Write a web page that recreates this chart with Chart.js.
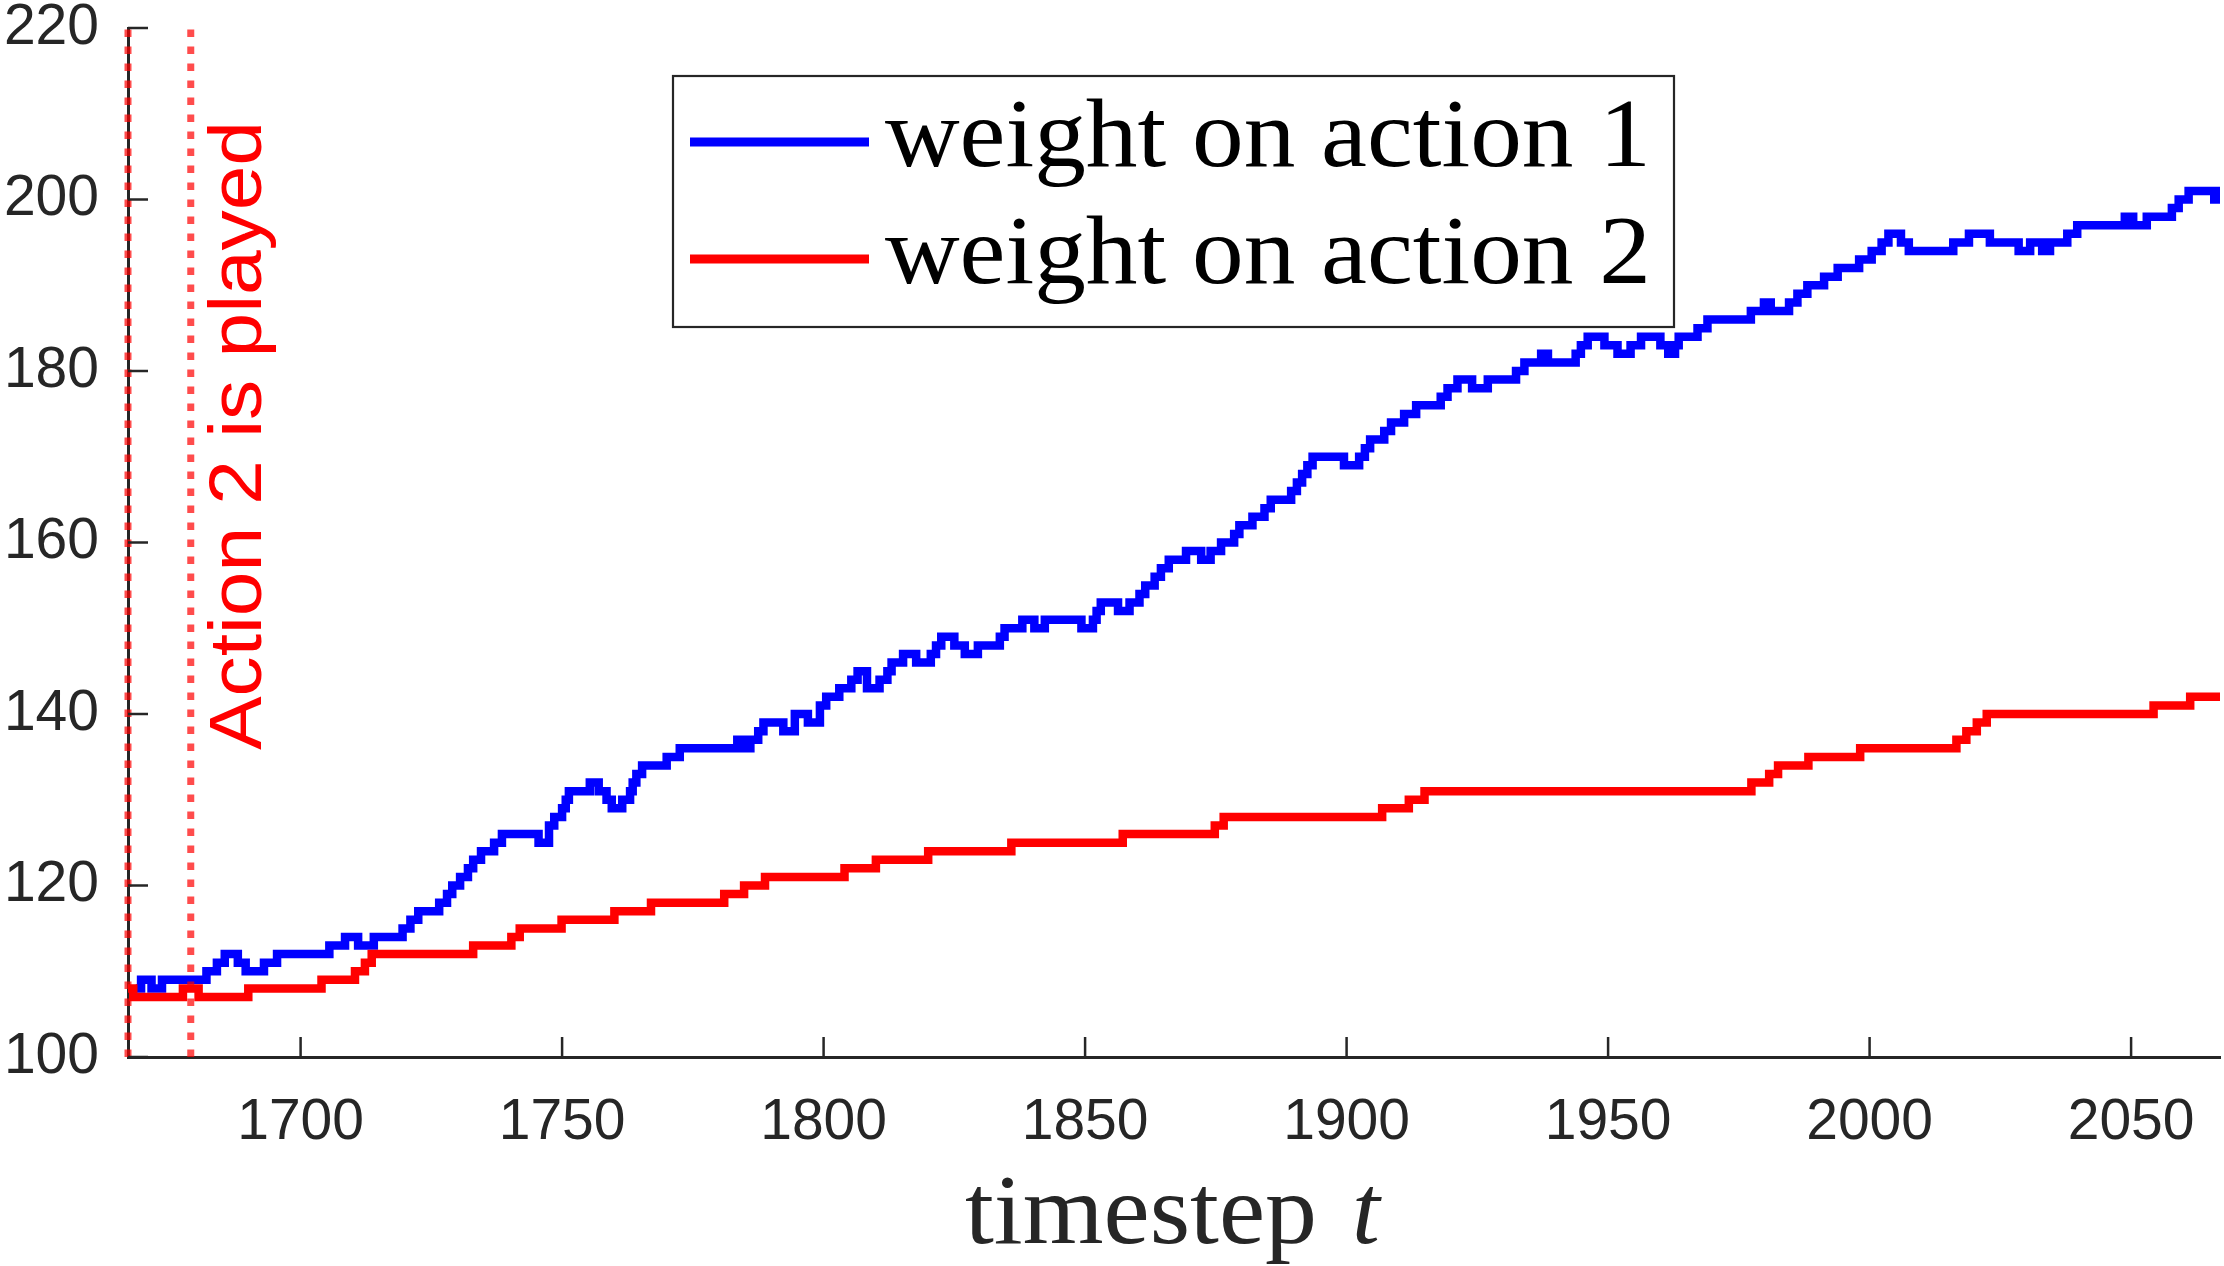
<!DOCTYPE html>
<html>
<head>
<meta charset="utf-8">
<script src="https://cdn.jsdelivr.net/npm/chart.js@4/dist/chart.umd.min.js"></script>
<style>
html,body{margin:0;padding:0;background:#ffffff;}
#wrap{width:2224px;height:1266px;position:relative;}
canvas{display:block;}
</style>
</head>
<body>
<div id="wrap"><canvas id="c" width="2224" height="1266"></canvas></div>
<script>
// ---------------- data ----------------
const xTickValues = [1700, 1750, 1800, 1850, 1900, 1950, 2000, 2050];
const yTickValues = [100, 120, 140, 160, 180, 200, 220];
const xRange = [1667, 2067];
const yRange = [100, 220];

const seriesLabels = ['weight on action 1', 'weight on action 2'];
const annotationText = 'Action 2 is played';
const axisTitleMain = 'timestep';
const axisTitleVar = 't';

// timesteps at which action 2 is played (dotted markers)
const actionPlayedT = [1667, 1679];

// weight on action 2 (change points: value holds from t onward)
const redT = [1667, 1668, 1677.5, 1680.5, 1690, 1704, 1710.4, 1712.3, 1713.6, 1733, 1740.3, 1741.9,
  1749.9, 1760, 1767, 1781, 1784.8, 1788.8, 1804, 1810, 1820, 1835.9, 1857.2, 1874.8, 1876.5,
  1906.8, 1911.9, 1914.9, 1977.4, 1980.8, 1982.5, 1988.3, 1998.2, 2016.6, 2018.5, 2020.5, 2022.4,
  2054.3, 2061.3, 2067];
const redW = [108, 107, 108, 107, 108, 109, 110, 111, 112, 113, 114, 115,
  116, 117, 118, 119, 120, 121, 122, 123, 124, 125, 126, 127, 128,
  129, 130, 131, 132, 133, 134, 135, 136, 137, 138, 139, 140,
  141, 142, 142];

// weight on action 1 (change points)
const blueT = [1668.5, 1669.5, 1671.5, 1673.5, 1682, 1684, 1685.5, 1688, 1689.5, 1693, 1695.5,
  1705.5, 1708.5, 1711, 1714, 1719.5, 1721, 1722.5, 1726.5, 1728, 1729, 1730.5, 1732, 1733,
  1734.5, 1737, 1738.5, 1745.5, 1747.5, 1748.5, 1750, 1750.7, 1751.3, 1755.3, 1757, 1758.5,
  1759.5, 1761.5, 1763, 1763.5, 1764.2, 1765.3, 1770, 1772.5, 1783.5, 1784.5, 1786, 1787.5,
  1788.5, 1792.3, 1794.5, 1797, 1799.3, 1800.5, 1803, 1805.3, 1806.5, 1808.3, 1810.7, 1812.2,
  1813, 1815.2, 1817.7, 1820.5, 1821.5, 1822.5, 1825, 1827, 1829.5, 1833.7, 1834.6, 1838,
  1840.3, 1842.3, 1849.3, 1851.5, 1852.2, 1853, 1856.3, 1858.5, 1860.4, 1861.5, 1863.3, 1864.5,
  1866, 1869.3, 1872.2, 1874, 1876, 1878.5, 1879.5, 1882, 1884.3, 1885.5, 1889.4, 1890.5,
  1891.5, 1892.5, 1893.5, 1899.5, 1902.4, 1903.5, 1904.5, 1907.2, 1908.5, 1911, 1913.3, 1918,
  1919.3, 1921.2, 1924, 1927, 1932.4, 1934, 1937.2, 1938.5, 1943.8, 1944.8, 1946.1, 1949.3,
  1951.8, 1954.3, 1956.3, 1960, 1961.5, 1962.8, 1963.5, 1967.1, 1969, 1977.3, 1979.8, 1981.1,
  1984.6, 1986.2, 1988.1, 1991.3, 1993.9, 1998, 2000.4, 2002.3, 2003.6, 2006, 2007.5, 2016,
  2019, 2023, 2028.5, 2030.7, 2033, 2034.5, 2037.8, 2039.7, 2048.8, 2050.4, 2053, 2057.8,
  2059.1, 2061, 2065.9, 2066.5, 2067];
const blueW = [108, 109, 108, 109, 110, 111, 112, 111, 110, 111, 112,
  113, 114, 113, 114, 115, 116, 117, 118, 119, 120, 121, 122, 123,
  124, 125, 126, 125, 127, 128, 129, 130, 131, 132, 131, 130,
  129, 130, 131, 132, 133, 134, 135, 136, 137, 136, 137, 138,
  139, 138, 140, 139, 141, 142, 143, 144, 145, 143, 144, 145,
  146, 147, 146, 147, 148, 149, 148, 147, 148, 149, 150, 151,
  150, 151, 150, 151, 152, 153, 152, 153, 154, 155, 156, 157,
  158, 159, 158, 159, 160, 161, 162, 163, 164, 165, 166, 167,
  168, 169, 170, 169, 170, 171, 172, 173, 174, 175, 176, 177,
  178, 179, 178, 179, 180, 181, 182, 181, 182, 183, 184, 183,
  182, 183, 184, 183, 182, 183, 184, 185, 186, 187, 188, 187,
  188, 189, 190, 191, 192, 193, 194, 195, 196, 195, 194, 195,
  196, 195, 194, 195, 194, 195, 196, 197, 198, 197, 198, 199,
  200, 201, 200, 201, 201];

// ---------------- styling ----------------
const AXIS_COLOR = '#262626';
const BLUE = '#0000ff';
const RED = '#ff0000';
const DOT_RED = 'rgba(255,0,0,0.7)';
const SANS = '"Liberation Sans", Arial, Helvetica, sans-serif';
const SERIF = '"Liberation Serif", "Times New Roman", serif';

const toPts = (ts, ws) => ts.map((t, i) => ({x: t, y: ws[i]}));

const vlineSets = actionPlayedT.map(t => ({
  label: '_marker',
  data: [{x: t, y: yRange[0]}, {x: t, y: yRange[1]}],
  borderColor: DOT_RED,
  borderWidth: 7,
  borderDash: [7.5, 9.5],
  borderCapStyle: 'butt',
  pointRadius: 0,
  fill: false,
  clip: false,
  tension: 0
}));

function fitText(ctx, text, x, y, targetW) {
  const w = ctx.measureText(text).width;
  ctx.save();
  ctx.translate(x, y);
  if (targetW && w > 0) ctx.scale(targetW / w, 1);
  ctx.fillText(text, 0, 0);
  ctx.restore();
}

const decorations = {
  id: 'decorations',
  afterDraw(chart) {
    const {ctx, chartArea: ca, scales} = chart;
    const xs = scales.x, ys = scales.y;

    // inward tick marks
    ctx.save();
    ctx.strokeStyle = AXIS_COLOR;
    ctx.lineWidth = 2.5;
    const tl = 20;
    xs.ticks.forEach(t => {
      const px = xs.getPixelForValue(t.value);
      ctx.beginPath(); ctx.moveTo(px, ca.bottom); ctx.lineTo(px, ca.bottom - tl); ctx.stroke();
    });
    ys.ticks.forEach(t => {
      const py = ys.getPixelForValue(t.value);
      ctx.beginPath(); ctx.moveTo(ca.left, py); ctx.lineTo(ca.left + tl, py); ctx.stroke();
    });
    ctx.restore();

    // rotated annotation
    ctx.save();
    ctx.fillStyle = RED;
    ctx.font = '75px ' + SANS;
    ctx.textAlign = 'left';
    ctx.textBaseline = 'alphabetic';
    ctx.translate(xs.getPixelForValue(1692.4), ys.getPixelForValue(135.8));
    ctx.rotate(-Math.PI / 2);
    fitText(ctx, annotationText, 0, 0, 629);
    ctx.restore();

    // legend box
    const cx = (ca.left + ca.right) / 2;
    const bw = 1001, bh = 251;
    const bx = cx - bw / 2 - 0.5, by = ca.top + 48;
    ctx.save();
    ctx.fillStyle = '#ffffff';
    ctx.fillRect(bx, by, bw, bh);
    ctx.strokeStyle = AXIS_COLOR;
    ctx.lineWidth = 2.2;
    ctx.strokeRect(bx, by, bw, bh);
    const sets = [chart.data.datasets.find(d => d.label === seriesLabels[0]),
                  chart.data.datasets.find(d => d.label === seriesLabels[1])];
    const rows = [by + 66, by + 183];
    sets.forEach((d, i) => {
      ctx.strokeStyle = d.borderColor;
      ctx.lineWidth = 9;
      ctx.lineCap = 'butt';
      ctx.beginPath();
      ctx.moveTo(bx + 17, rows[i]);
      ctx.lineTo(bx + 196, rows[i]);
      ctx.stroke();
      ctx.fillStyle = '#000000';
      ctx.font = '97px ' + SERIF;
      ctx.textAlign = 'left';
      ctx.textBaseline = 'alphabetic';
      fitText(ctx, d.label, bx + 212, rows[i] + 24, 766);
    });
    ctx.restore();

    // x-axis title: "timestep t"
    ctx.save();
    ctx.fillStyle = '#262626';
    ctx.textBaseline = 'alphabetic';
    ctx.textAlign = 'left';
    ctx.font = '100px ' + SERIF;
    const baseY = ca.bottom + 186;
    fitText(ctx, axisTitleMain, cx - 209, baseY, 352);
    ctx.font = 'italic 100px ' + SERIF;
    ctx.fillText(axisTitleVar, cx + 178, baseY);
    ctx.restore();
  }
};

const tickFont = {family: SANS, size: 57, lineHeight: 1};

new Chart(document.getElementById('c'), {
  type: 'line',
  data: {
    datasets: [
      ...vlineSets,
      {
        label: seriesLabels[1],
        data: toPts(redT, redW),
        borderColor: RED,
        borderWidth: 8.5,
        stepped: 'before',
        pointRadius: 0,
        fill: false,
        borderJoinStyle: 'miter',
        borderCapStyle: 'butt'
      },
      {
        label: seriesLabels[0],
        data: toPts(blueT, blueW),
        borderColor: BLUE,
        borderWidth: 8.5,
        stepped: 'before',
        pointRadius: 0,
        fill: false,
        borderJoinStyle: 'miter',
        borderCapStyle: 'butt'
      }
    ]
  },
  options: {
    responsive: false,
    maintainAspectRatio: false,
    devicePixelRatio: 1,
    animation: false,
    events: [],
    layout: {padding: {top: 0, right: 4, bottom: 0, left: 0}},
    plugins: {
      legend: {display: false},
      tooltip: {enabled: false},
      title: {display: false}
    },
    scales: {
      x: {
        type: 'linear',
        min: xRange[0],
        max: xRange[1],
        afterBuildTicks: s => { s.ticks = xTickValues.map(v => ({value: v})); },
        afterFit: s => { s.height = 209; s.paddingLeft = 0; s.paddingRight = 0; },
        ticks: {font: tickFont, color: AXIS_COLOR, padding: 38, maxRotation: 0, autoSkip: false,
                callback: v => String(v)},
        grid: {display: true, drawOnChartArea: false, drawTicks: false},
        border: {display: true, color: AXIS_COLOR, width: 3}
      },
      y: {
        type: 'linear',
        min: yRange[0],
        max: yRange[1],
        afterBuildTicks: s => { s.ticks = yTickValues.map(v => ({value: v})); },
        afterFit: s => { s.width = 128; s.paddingTop = 28; s.paddingBottom = 0; },
        ticks: {font: tickFont, color: AXIS_COLOR, padding: 29, autoSkip: false,
                callback: v => String(v)},
        grid: {display: true, drawOnChartArea: false, drawTicks: false},
        border: {display: true, color: AXIS_COLOR, width: 3}
      }
    }
  },
  plugins: [decorations]
});
</script>
</body>
</html>
